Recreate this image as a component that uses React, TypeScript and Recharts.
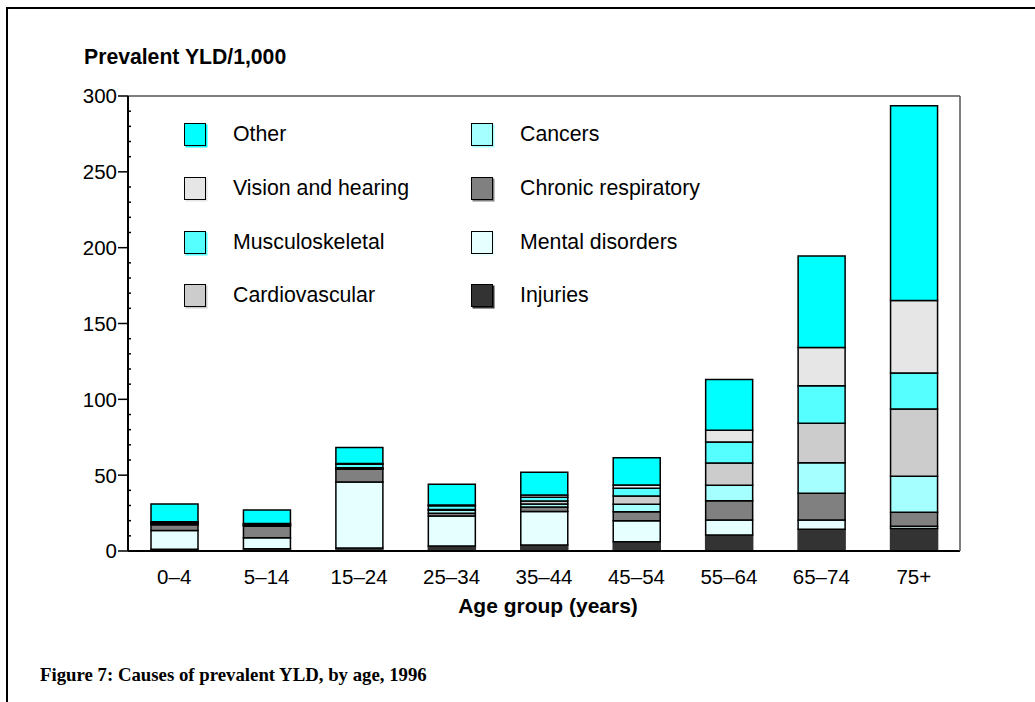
import React from 'react';
import { BarChart, Bar, XAxis, YAxis, ReferenceLine } from 'recharts';

const categories = ['0–4', '5–14', '15–24', '25–34', '35–44', '45–54', '55–64', '65–74', '75+'];
const injuries = [1.2, 1.5, 2.0, 3.3, 4.0, 6.1, 10.5, 14.3, 14.9];
const mentalDisorders = [12.3, 7.2, 43.5, 19.8, 22.0, 13.8, 9.9, 6.1, 1.5];
const chronicRespiratory = [3.8, 7.7, 8.4, 1.8, 3.0, 5.9, 12.7, 17.6, 9.2];
const cancers = [0.6, 0.5, 0.5, 2.0, 2.0, 5.1, 10.3, 20.2, 23.7];
const cardiovascular = [0.3, 0.3, 0.5, 0.5, 2.0, 5.3, 14.7, 26.0, 44.4];
const musculoskeletal = [0.8, 0.8, 2.3, 2.5, 2.5, 5.1, 13.8, 24.8, 23.7];
const visionHearing = [0.3, 0.2, 0.5, 0.5, 1.5, 2.2, 7.7, 25.1, 47.7];
const other = [11.7, 8.8, 10.5, 13.6, 15.0, 18.0, 33.4, 60.4, 128.4];

const yTicks = [0, 10, 20, 30, 40, 50, 60, 70, 80, 90, 100, 110, 120, 130, 140, 150, 160, 170, 180, 190, 200, 210, 220, 230, 240, 250, 260, 270, 280, 290, 300];

const series = [
  { key: 'injuries', name: 'Injuries', values: injuries, color: '#333333' },
  { key: 'mental', name: 'Mental disorders', values: mentalDisorders, color: '#e6ffff' },
  { key: 'chronic', name: 'Chronic respiratory', values: chronicRespiratory, color: '#808080' },
  { key: 'cancers', name: 'Cancers', values: cancers, color: '#a6ffff' },
  { key: 'cardio', name: 'Cardiovascular', values: cardiovascular, color: '#cccccc' },
  { key: 'musculo', name: 'Musculoskeletal', values: musculoskeletal, color: '#55ffff' },
  { key: 'vision', name: 'Vision and hearing', values: visionHearing, color: '#e6e6e6' },
  { key: 'other', name: 'Other', values: other, color: '#00ffff' },
];

const legendCol1 = ['other', 'vision', 'musculo', 'cardio'];
const legendCol2 = ['cancers', 'chronic', 'mental', 'injuries'];

const data = categories.map((c, i) => {
  const row: any = { category: c };
  series.forEach((s) => { row[s.key] = s.values[i]; });
  return row;
});

const FONT = '"Liberation Sans", Arial, sans-serif';

const YTick = (props: any) => {
  const { x, y, payload } = props;
  const v = payload.value;
  if (v % 50 === 0) {
    return (
      <g>
        <line x1={x - 10} x2={x} y1={y} y2={y} stroke="#000" strokeWidth={1.5} />
        <text x={x - 11} y={y} dy="0.36em" textAnchor="end" fontFamily={FONT} fontSize={20.5} fill="#000">{v}</text>
      </g>
    );
  }
  return <line x1={x} x2={x + 3} y1={y} y2={y} stroke="#000" strokeWidth={1.5} />;
};

const XTick = (props: any) => {
  const { x, y, payload } = props;
  return (
    <text x={x} y={y} dy="0.71em" textAnchor="middle" fontFamily={FONT} fontSize={20.5} fill="#000">{payload.value}</text>
  );
};

const LegendItem = ({ s, left, top }: any) => (
  <div style={{ position: 'absolute', left, top, height: 24, display: 'flex', alignItems: 'center' }}>
    <div style={{ width: 20, height: 21, background: s.color, border: '1.5px solid #000', boxSizing: 'content-box', boxShadow: `1.5px 1.5px 0 ${s.color}` }} />
    <span style={{ marginLeft: 27, fontFamily: FONT, fontSize: 21.3, whiteSpace: 'nowrap', color: '#000' }}>{s.name}</span>
  </div>
);

export default function App() {
  const byKey: any = {};
  series.forEach((s) => { byKey[s.key] = s; });
  const rowTops = [122, 176, 230, 283];
  return (
    <div style={{ position: 'absolute', left: 0, top: 0, width: 1035, height: 702, overflow: 'hidden', background: '#fff' }}>
      <div style={{ position: 'absolute', left: 6, top: 7, width: 1100, height: 800, borderLeft: '2px solid #000', borderTop: '2px solid #000' }} />
      <BarChart
        width={1035}
        height={702}
        data={data}
        margin={{ top: 96, right: 74, bottom: 111, left: 0 }}
        barSize={47}
        style={{ position: 'absolute', left: 0, top: 0 }}
      >
        <ReferenceLine y={300} stroke="#555" strokeWidth={1.5} ifOverflow="extendDomain" />
        <XAxis
          dataKey="category"
          height={40}
          tickLine={false}
          tickSize={0}
          tickMargin={18}
          axisLine={{ stroke: '#000', strokeWidth: 2 }}
          tick={<XTick />}
          interval={0}
        />
        <YAxis
          width={128}
          domain={[0, 300]}
          ticks={yTicks}
          interval={0}
          tickLine={false}
          tickSize={0}
          tickMargin={0}
          axisLine={{ stroke: '#000', strokeWidth: 2 }}
          tick={<YTick />}
        />
        <YAxis
          yAxisId="right"
          orientation="right"
          width={1}
          domain={[0, 300]}
          tick={false}
          tickLine={false}
          axisLine={{ stroke: '#555', strokeWidth: 1.5 }}
        />
        {series.map((s) => (
          <Bar
            key={s.key}
            dataKey={s.key}
            name={s.name}
            stackId="a"
            fill={s.color}
            stroke={s.key === 'injuries' ? s.color : '#000'}
            strokeWidth={1.5}
            isAnimationActive={false}
          />
        ))}
      </BarChart>
      {legendCol1.map((k, i) => (
        <LegendItem key={k} s={byKey[k]} left={184} top={rowTops[i]} />
      ))}
      {legendCol2.map((k, i) => (
        <LegendItem key={k} s={byKey[k]} left={471} top={rowTops[i]} />
      ))}
      <div style={{ position: 'absolute', left: 84, top: 45, fontFamily: FONT, fontWeight: 'bold', fontSize: 21.2, whiteSpace: 'nowrap', color: '#000' }}>
        Prevalent YLD/1,000
      </div>
      <div style={{ position: 'absolute', left: 344, width: 408, top: 594, textAlign: 'center', fontFamily: FONT, fontWeight: 'bold', fontSize: 21, whiteSpace: 'nowrap', color: '#000' }}>
        Age group (years)
      </div>
      <div style={{ position: 'absolute', left: 40, top: 664, fontFamily: '"Liberation Serif", "DejaVu Serif", serif', fontWeight: 'bold', fontSize: 18.8, whiteSpace: 'nowrap', color: '#000' }}>
        Figure 7: Causes of prevalent YLD, by age, 1996
      </div>
    </div>
  );
}
